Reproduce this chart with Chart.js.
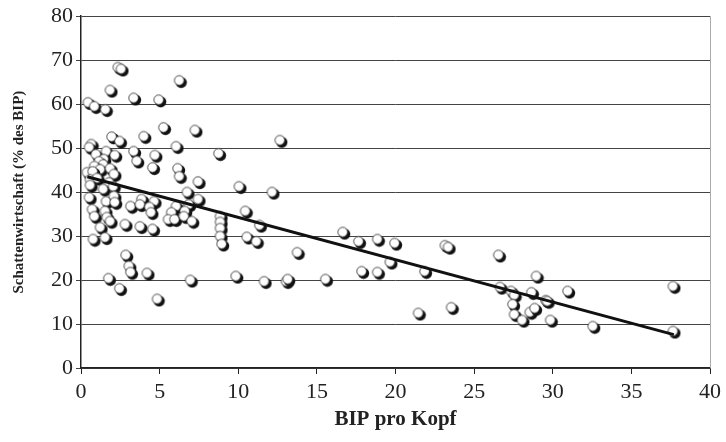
<!DOCTYPE html>
<html>
<head>
<meta charset="utf-8">
<script src="https://cdn.jsdelivr.net/npm/chart.js@4/dist/chart.umd.min.js"></script>
<style>
  body { margin: 0; background: #fff; }
  #wrap { width: 726px; height: 442px; }
</style>
</head>
<body>
<div id="wrap"><canvas id="chart" width="726" height="442"></canvas></div>
<script>
// BIP pro Kopf (x) vs. Schattenwirtschaft in % des BIP (y)
const bipX = [
  2.4, 2.6, 6.3, 1.9, 3.4, 5.0, 0.5, 0.9, 1.6, 5.3,
  7.3, 12.7, 2.0, 2.5, 4.05, 0.7, 0.57, 6.1, 8.8, 3.4,
  4.75, 3.6, 4.6, 6.2, 6.3, 7.5, 10.1, 1.0, 1.65, 2.2,
  1.5, 1.2, 1.46, 0.9, 1.27, 1.9, 0.44, 0.8, 2.15, 0.63,
  1.08, 1.84, 0.63, 1.46, 2.1, 0.57, 1.65, 2.15, 2.2, 0.76,
  1.58, 0.9, 1.7, 1.9, 1.27, 0.82, 1.58, 2.85, 3.2, 3.9,
  3.8, 4.7, 4.4, 3.8, 4.6, 2.9, 3.1, 3.2, 1.8, 2.5,
  4.25, 4.9, 7.0, 9.9, 11.7, 13.1, 13.2, 15.6, 6.8, 6.1,
  6.9, 7.5, 5.8, 6.65, 5.6, 6.0, 6.6, 7.1, 8.9, 8.9,
  8.9, 8.9, 9.0, 10.5, 10.6, 11.2, 11.4, 12.2, 13.8, 16.7,
  17.7, 18.9, 20.0, 19.7, 17.9, 18.9, 21.9, 21.5, 23.2, 23.4,
  23.6, 26.6, 26.7, 27.4, 27.6, 27.5, 27.6, 28.1, 28.6, 28.9,
  28.7, 29.0, 29.6, 29.7, 29.9, 31.0, 32.6, 37.7, 37.7, 4.5
];
const schattenY = [
  68.2, 67.8, 65.2, 63.0, 61.2, 60.8, 60.2, 59.3, 58.6, 54.5,
  53.9, 51.6, 52.4, 51.4, 52.5, 50.7, 50.0, 50.2, 48.6, 49.1,
  48.2, 46.9, 45.4, 45.2, 43.4, 42.2, 41.1, 48.4, 49.1, 48.2,
  47.3, 46.8, 46.1, 45.7, 45.0, 45.2, 44.3, 44.5, 43.9, 42.7,
  43.0, 42.0, 41.4, 40.5, 41.1, 38.6, 37.7, 38.9, 37.5, 35.9,
  35.5, 34.3, 34.1, 33.2, 31.8, 29.1, 29.5, 32.5, 36.6, 38.2,
  37.0, 37.7, 36.4, 32.0, 31.4, 25.5, 23.0, 21.6, 20.2, 17.9,
  21.4, 15.5, 19.8, 20.7, 19.5, 19.5, 20.0, 20.0, 39.8, 36.6,
  37.0, 38.2, 35.2, 35.5, 33.6, 33.6, 34.3, 33.2, 34.3, 33.0,
  31.6, 29.8, 28.0, 35.5, 29.6, 28.6, 32.3, 39.8, 26.1, 30.7,
  28.6, 29.1, 28.2, 23.9, 21.8, 21.6, 21.8, 12.3, 27.7, 27.3,
  13.6, 25.5, 18.2, 17.3, 16.4, 14.3, 12.0, 10.7, 12.5, 13.4,
  17.0, 20.7, 15.2, 15.0, 10.7, 17.3, 9.3, 18.4, 8.2, 35.2
];
// linear trend line, end points
const trendX = [0.4, 37.7];
const trendY = [43.5, 7.6];

const xTicks = [0, 5, 10, 15, 20, 25, 30, 35, 40];
const yTicks = [0, 10, 20, 30, 40, 50, 60, 70, 80];

// shaded ball marker
function makeBall() {
  const c = document.createElement('canvas');
  c.width = 15; c.height = 15;
  const g = c.getContext('2d');
  g.fillStyle = '#111';
  g.beginPath(); g.arc(8.6, 8.6, 5.6, 0, Math.PI * 2); g.fill();
  g.fillStyle = '#fff';
  g.strokeStyle = '#222';
  g.lineWidth = 0.8;
  g.beginPath(); g.arc(6.6, 6.6, 4.8, 0, Math.PI * 2); g.fill(); g.stroke();
  return c;
}
const ball = makeBall();

const points = bipX.map((x, i) => ({ x: x, y: schattenY[i] }));
const trend = trendX.map((x, i) => ({ x: x, y: trendY[i] }));

const frame = {
  id: 'frame',
  afterDraw(chart) {
    const a = chart.chartArea, ctx = chart.ctx;
    ctx.save();
    ctx.strokeStyle = '#aaa';
    ctx.lineWidth = 1;
    ctx.beginPath();
    ctx.moveTo(a.right + 0.5, a.top);
    ctx.lineTo(a.right + 0.5, a.bottom);
    ctx.stroke();
    ctx.restore();
  }
};

const font = 'Liberation Serif, Times New Roman, serif';

new Chart(document.getElementById('chart'), {
  type: 'scatter',
  data: {
    datasets: [
      {
        label: 'Trend',
        data: trend,
        showLine: true,
        borderColor: '#111',
        borderWidth: 3,
        pointRadius: 0,
        order: 0
      },
      {
        label: 'Länder',
        data: points,
        pointStyle: ball,
        pointRadius: 6,
        order: 1
      }
    ]
  },
  options: {
    responsive: false,
    animation: false,
    layout: { padding: { top: 16, right: 14, left: 0, bottom: 0 } },
    plugins: { legend: { display: false }, tooltip: { enabled: false } },
    scales: {
      x: {
        type: 'linear',
        min: 0,
        max: 40,
        afterBuildTicks: s => { s.ticks = xTicks.map(v => ({ value: v })); },
        afterFit: s => { s.height = 74; },
        grid: { drawOnChartArea: false, drawTicks: true, tickLength: 6, color: '#222' },
        border: { color: '#222', width: 1.5 },
        ticks: { color: '#222', font: { family: font, size: 22 }, padding: 5 },
        title: {
          display: true,
          text: 'BIP pro Kopf',
          color: '#222',
          font: { family: font, size: 21, weight: 'bold' },
          padding: { top: 2, bottom: 10 }
        }
      },
      y: {
        min: 0,
        max: 80,
        afterBuildTicks: s => { s.ticks = yTicks.map(v => ({ value: v })); },
        afterFit: s => { s.width = 81; },
        grid: { color: '#444', lineWidth: 1, tickLength: 5 },
        border: { color: '#222', width: 1.5 },
        ticks: { color: '#222', font: { family: font, size: 22 }, padding: 3 },
        title: {
          display: true,
          text: 'Schattenwirtschaft (% des BIP)',
          color: '#222',
          font: { family: font, size: 15, weight: 'bold' },
          padding: { top: 10, bottom: 4 }
        }
      }
    }
  },
  plugins: [frame]
});
</script>
</body>
</html>
